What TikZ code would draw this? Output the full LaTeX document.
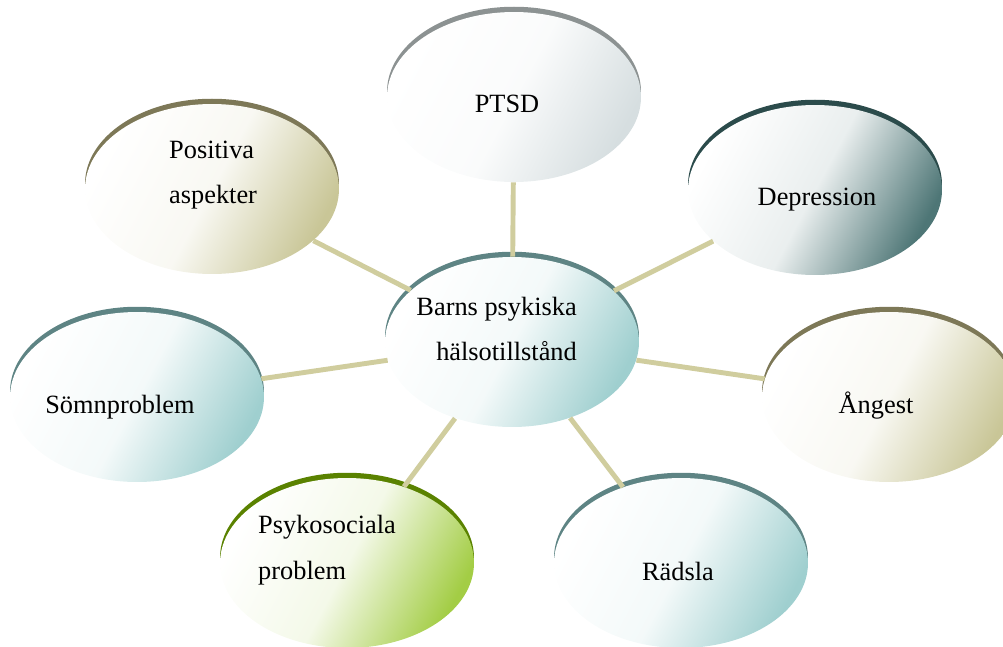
\documentclass[tikz,border=0pt]{standalone}
\usepackage{fontspec}
\setmainfont{Liberation Serif}
\usetikzlibrary{shapes.geometric}
\definecolor{grayarc}{HTML}{8C9292}
\definecolor{grayfill}{HTML}{D6DEE0}
\definecolor{deeparc}{HTML}{2B4B4B}
\definecolor{deepfill}{HTML}{4E7676}
\definecolor{olivearc}{HTML}{7D7857}
\definecolor{olivefill}{HTML}{C9C697}
\definecolor{tealarc}{HTML}{5E8484}
\definecolor{tealfill}{HTML}{9FCFCF}
\definecolor{greenarc}{HTML}{5A8200}
\definecolor{greenfill}{HTML}{A3CD45}
\definecolor{linkcol}{HTML}{D0CD9E}
\tikzset{
  bubble/.style 2 args={ellipse, minimum width=5.08cm, minimum height=3.4cm, inner sep=0pt,
    top color=white, bottom color=#1, middle color=#1!12, shading angle=62,
    preaction={fill=#2, transform canvas={yshift=3pt}}},
  link/.style={draw=linkcol, line width=2.8pt},
}
\begin{document}
\begin{tikzpicture}[x=0.02cm, y=-0.02cm, font=\fontsize{15}{26}\selectfont]
	\useasboundingbox (0,0) rectangle (1003,646);
	%bubbles
	\node[bubble={tealfill}{tealarc}] (hub) at (512,342) {};
	\node[bubble={grayfill}{grayarc}] (ptsd) at (514,97) {};
	\node[bubble={deepfill}{deeparc}] (depr) at (815,190) {};
	\node[bubble={olivefill}{olivearc}] (angest) at (889,397) {};
	\node[bubble={tealfill}{tealarc}] (radsla) at (681,563) {};
	\node[bubble={greenfill}{greenarc}] (psyko) at (347,563) {};
	\node[bubble={tealfill}{tealarc}] (somn) at (137,397) {};
	\node[bubble={olivefill}{olivearc}] (posit) at (212,189) {};
	% links
	\foreach \n in {ptsd,depr,angest,radsla,psyko,somn,posit}
		\draw[link] (hub) -- (\n);
	% texts
	\node[anchor=east, align=right] (hub-txt) at (583,329) {Barns psykiska\\hälsotillstånd};
	\node[anchor=base] (ptsd-txt) at (507,112) {PTSD};
	\node[anchor=base] (depr-txt) at (817,205) {Depression};
	\node[anchor=base] (angest-txt) at (876,413) {Ångest};
	\node[anchor=base] (radsla-txt) at (678,580) {Rädsla};
	\node[anchor=west, align=left] (psyko-txt) at (252,550) {Psykosociala\\problem};
	\node[anchor=base] (somn-txt) at (120,413) {Sömnproblem};
	\node[anchor=west, align=left] (posit-txt) at (163,175) {Positiva\\aspekter};
\end{tikzpicture}
\end{document}
